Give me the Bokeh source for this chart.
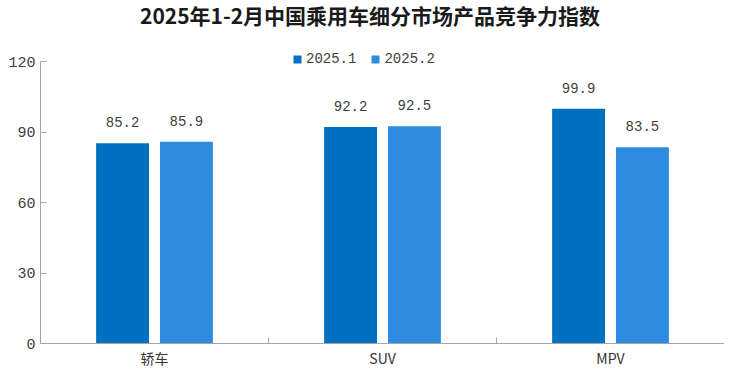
from bokeh.plotting import figure
from bokeh.models import (ColumnDataSource, Range1d, LinearAxis, FixedTicker,
                          Legend, LegendItem, Div)
from bokeh.layouts import column
from bokeh.core.properties import value
from bokeh.embed import file_html
from bokeh.resources import INLINE

# ---- data ----
categories = ["轿车", "SUV", "MPV"]
series_names = ["2025.1", "2025.2"]
values_jan = [85.2, 92.2, 99.9]
values_feb = [85.9, 92.5, 83.5]
y_ticks = [0, 30, 60, 90, 120]
title_text = "2025年1-2月中国乘用车细分市场产品竞争力指数"

colors = ["#0070C0", "#2D8CDF"]
num_font = "Liberation Mono"
cjk_font = "Noto Sans CJK SC"

n = len(categories)
centers = [i + 0.5 for i in range(n)]
offset = 0.14
bar_w = 0.232

title_div = Div(text=title_text, width=724, height=30,
                styles={"font-family": "'Noto Sans CJK SC', sans-serif",
                        "font-size": "21px", "font-weight": "bold",
                        "color": "#1a1a1a", "line-height": "30px",
                        "padding-left": "140px", "margin": "0",
                        "white-space": "nowrap"})

p = figure(width=724, height=342, x_range=Range1d(0, n), y_range=Range1d(0, 126),
           output_backend="svg", toolbar_location=None,
           x_axis_type=None, y_axis_type=None,
           min_border_left=40, min_border_right=0, min_border_top=17,
           min_border_bottom=29)
p.outline_line_color = None
p.xgrid.visible = False
p.ygrid.visible = False
p.background_fill_color = "white"
p.border_fill_color = "white"

renderers = []
for k, (vals, col) in enumerate(zip([values_jan, values_feb], colors)):
    xs = [c + (-offset if k == 0 else offset) for c in centers]
    src = ColumnDataSource(dict(x=xs, top=vals, label=[f"{v:.1f}" for v in vals]))
    r = p.vbar(x="x", top="top", width=bar_w, source=src, fill_color=col,
               line_color=None)
    renderers.append(r)
    p.text(x="x", y="top", text="label", source=src, text_align="center",
           text_baseline="bottom", y_offset=-16, text_font_size="14px",
           text_color="#404040", text_font=value(num_font))

# y axis
yax = LinearAxis(ticker=FixedTicker(ticks=y_ticks), bounds=(0, 120))
yax.axis_line_color = "#a6a6a6"
yax.major_tick_line_color = "#a6a6a6"
yax.major_tick_in = 6
yax.major_tick_out = 0
yax.minor_tick_line_color = None
yax.major_label_text_font = num_font
yax.major_label_text_font_size = "15px"
yax.major_label_text_color = "#404040"
yax.major_label_standoff = 5
p.add_layout(yax, "left")

# x axis: labels at category centres, tick marks at category boundaries
xax = LinearAxis(ticker=FixedTicker(ticks=centers, minor_ticks=list(range(n + 1))))
xax.major_label_overrides = {c: cat for c, cat in zip(centers, categories)}
xax.major_label_text_font = cjk_font
xax.major_label_text_font_size = "14px"
xax.major_label_text_color = "#333333"
xax.major_label_standoff = 4
xax.axis_line_color = "#a6a6a6"
xax.major_tick_line_color = None
xax.major_tick_in = 0
xax.major_tick_out = 0
xax.minor_tick_line_color = "#a6a6a6"
xax.minor_tick_in = 6
xax.minor_tick_out = 0
p.add_layout(xax, "below")

legend = Legend(items=[LegendItem(label=s, renderers=[r]) for s, r in zip(series_names, renderers)],
                orientation="horizontal", location=(252, 276))
legend.border_line_color = None
legend.background_fill_alpha = 0
legend.glyph_width = 10
legend.glyph_height = 10
legend.label_text_font = num_font
legend.label_text_font_size = "14px"
legend.label_text_color = "#404040"
legend.label_standoff = 4
legend.spacing = 14
legend.padding = 2
legend.margin = 0
legend.label_height = 14
p.add_layout(legend, "center")

layout = column(title_div, p, spacing=0)
open("out.html", "w").write(file_html(layout, INLINE))
